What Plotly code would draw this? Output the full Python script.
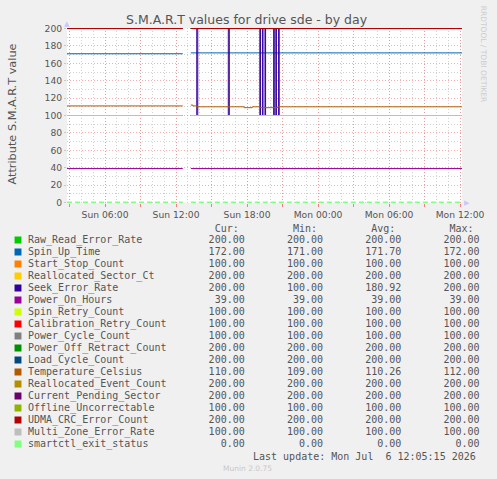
import plotly.graph_objects as go

# ---------------- data ----------------
T0 = "2026-07-05 02:47"
T1 = "2026-07-06 12:10"
GAP_S = "2026-07-05 12:34"
GAP_M = "2026-07-05 12:55"
GAP_E = "2026-07-05 13:15"

names = ["Raw_Read_Error_Rate", "Spin_Up_Time", "Start_Stop_Count", "Reallocated_Sector_Ct",
         "Seek_Error_Rate", "Power_On_Hours", "Spin_Retry_Count", "Calibration_Retry_Count",
         "Power_Cycle_Count", "Power_Off_Retract_Count", "Load_Cycle_Count", "Temperature_Celsius",
         "Reallocated_Event_Count", "Current_Pending_Sector", "Offline_Uncorrectable",
         "UDMA_CRC_Error_Count", "Multi_Zone_Error_Rate", "smartctl_exit_status"]
colors = ["#00cc00", "#0066b3", "#ff8000", "#ffcc00", "#330099", "#990099", "#ccff00", "#ff0000",
          "#808080", "#008f00", "#00487d", "#b35a00", "#b38f00", "#6b006b", "#8fb300", "#b30000",
          "#bebebe", "#80ff80"]
cur_vals = [200, 172, 100, 200, 200, 39, 100, 100, 100, 200, 200, 110, 200, 200, 100, 200, 100, 0]
min_vals = [200, 171, 100, 200, 100, 39, 100, 100, 100, 200, 200, 109, 200, 200, 100, 200, 100, 0]
avg_vals = [200, 171.70, 100, 200, 180.92, 39, 100, 100, 100, 200, 200, 110.26, 200, 200, 100, 200, 100, 0]
max_vals = [200, 172, 100, 200, 200, 39, 100, 100, 100, 200, 200, 112, 200, 200, 100, 200, 100, 0]

# level before / after the data gap for the flat series
pre_vals = [200, 171, 100, 200, 200, 39, 100, 100, 100, 200, 200, 111, 200, 200, 100, 200, 100, 0]
post_vals = [200, 172, 100, 200, 200, 39, 100, 100, 100, 200, 200, 110, 200, 200, 100, 200, 100, 0]

seek_times = ["2026-07-05 13:15", "2026-07-05 13:45", "2026-07-05 13:50", "2026-07-05 16:25",
              "2026-07-05 16:30", "2026-07-05 19:05", "2026-07-05 19:08", "2026-07-05 19:18",
              "2026-07-05 19:21", "2026-07-05 19:31", "2026-07-05 19:34",
              "2026-07-05 20:15", "2026-07-05 20:18", "2026-07-05 20:26",
              "2026-07-05 20:29", "2026-07-05 20:40", "2026-07-05 20:43", T1]
seek_vals = [200, 100, 200, 100, 200, 100, 200, 100, 200, 100, 200, 100, 200, 100, 200,
             100, 200, 200]

temp_times = ["2026-07-05 13:15", "2026-07-05 13:25", "2026-07-05 13:45", "2026-07-05 17:46",
              "2026-07-05 18:26", "2026-07-05 19:06", "2026-07-05 20:36", T1]
temp_vals = [112, 111, 110, 109, 110, 109, 110, 110]

tick_vals = ["2026-07-05 03:00", "2026-07-05 06:00", "2026-07-05 09:00", "2026-07-05 12:00",
             "2026-07-05 15:00", "2026-07-05 18:00", "2026-07-05 21:00", "2026-07-06 00:00",
             "2026-07-06 03:00", "2026-07-06 06:00", "2026-07-06 09:00", "2026-07-06 12:00"]
tick_text = ["", "Sun 06:00", "", "Sun 12:00", "", "Sun 18:00", "", "Mon 00:00",
             "", "Mon 06:00", "", "Mon 12:00"]

# ---------------- layout geometry ----------------
W, H = 497, 479
L, R, T, B = 67, 466, 28, 203


def px(x):
    return (x - L) / (R - L)


def py(y):
    return (B - y) / (B - T)


TXT = "#555555"
fig = go.Figure()

for i, n in enumerate(names):
    if n == "Seek_Error_Rate":
        xs = [T0, GAP_S, GAP_M] + seek_times
        ys = [pre_vals[i], pre_vals[i], None] + seek_vals
    elif n == "Temperature_Celsius":
        xs = [T0, GAP_S, GAP_M] + temp_times
        ys = [pre_vals[i], pre_vals[i], None] + temp_vals
    else:
        xs = [T0, GAP_S, GAP_M, GAP_E, T1]
        ys = [pre_vals[i], pre_vals[i], None, post_vals[i], post_vals[i]]
    dash = "solid"
    width = 1.0
    if n == "smartctl_exit_status":
        dash = "5px,3px"
        width = 2
    fig.add_trace(go.Scatter(x=xs, y=ys, mode="lines", name=n, showlegend=False,
                             line=dict(color=colors[i], width=width, shape="hv", dash=dash),
                             connectgaps=False, hoverinfo="skip"))

annotations = []
shapes = []
mono = "DejaVu Sans Mono"
NB = "\u00a0"


def fmt(v):
    return f"{v:.2f}"


header = " " * 31 + "Cur:" + " " * 9 + "Min:" + " " * 9 + "Avg:" + " " * 9 + "Max:"
annotations.append(dict(x=px(26), y=py(228), xref="paper", yref="paper", xanchor="left",
                        yanchor="middle", showarrow=False, text=header.replace(" ", NB),
                        font=dict(family=mono, size=10, color=TXT)))
for i, n in enumerate(names):
    yc = 240 + 12 * i
    row = f"{n:<30}{fmt(cur_vals[i]):>6}{fmt(min_vals[i]):>13}{fmt(avg_vals[i]):>13}{fmt(max_vals[i]):>13}"
    annotations.append(dict(x=px(26), y=py(yc), xref="paper", yref="paper", xanchor="left",
                            yanchor="middle", showarrow=False, text=row.replace(" ", NB),
                            font=dict(family=mono, size=10, color=TXT)))
    shapes.append(dict(type="rect", xref="paper", yref="paper", x0=px(14), x1=px(21),
                       y0=py(yc + 3.5), y1=py(yc - 3.5), fillcolor=colors[i], line=dict(width=0)))

annotations.append(dict(x=px(482), y=py(456), xref="paper", yref="paper", xanchor="right",
                        yanchor="middle", showarrow=False,
                        text="Last update: Mon Jul  6 12:05:15 2026".replace(" ", NB),
                        font=dict(family=mono, size=10, color=TXT)))
annotations.append(dict(x=px(249), y=py(468), xref="paper", yref="paper", xanchor="center",
                        yanchor="middle", showarrow=False, text="Munin 2.0.75",
                        font=dict(family="DejaVu Sans", size=7.5, color="#c8c8c8")))
annotations.append(dict(x=px(248.5), y=py(19), xref="paper", yref="paper", xanchor="center",
                        yanchor="middle", showarrow=False,
                        text="S.M.A.R.T values for drive sde - by day",
                        font=dict(family="DejaVu Sans", size=12.5, color=TXT)))
annotations.append(dict(x=px(11), y=py(114), xref="paper", yref="paper", xanchor="center",
                        yanchor="middle", showarrow=False, textangle=-90,
                        text="Attribute S.M.A.R.T value",
                        font=dict(family="DejaVu Sans", size=11.3, color=TXT)))
annotations.append(dict(x=px(488.5), y=py(54), xref="paper", yref="paper", xanchor="center",
                        yanchor="middle", showarrow=False, textangle=90,
                        text="RRDTOOL / TOBI OETIKER",
                        font=dict(family="DejaVu Sans", size=7.5, color="#cccccc")))
annotations.append(dict(x=px(66.8), y=py(24), xref="paper", yref="paper", xanchor="center",
                        yanchor="middle", showarrow=False, text="\u25B2",
                        font=dict(family="DejaVu Sans", size=7, color="#c8c8ff")))
annotations.append(dict(x=px(471), y=py(203), xref="paper", yref="paper", xanchor="center",
                        yanchor="middle", showarrow=False, text="\u25B6",
                        font=dict(family="DejaVu Sans", size=7, color="#c8c8ff")))

fig.update_layout(
    width=W, height=H,
    margin=dict(l=L, r=W - R, t=T, b=H - B, pad=0),
    paper_bgcolor="#f0f0f0", plot_bgcolor="#ffffff",
    annotations=annotations, shapes=shapes,
    xaxis=dict(type="date", range=[T0, T1], tickvals=tick_vals, ticktext=tick_text,
               showgrid=True, gridcolor="rgba(240,120,120,0.6)", griddash="1px,2px", gridwidth=1,
               ticks="outside", ticklen=3, tickcolor="rgba(240,100,100,0.8)",
               tickfont=dict(family="DejaVu Sans", size=9.2, color=TXT),
               zeroline=False, showline=False, fixedrange=True,
               minor=dict(dtick=3600000, tick0="2026-07-05 00:00", showgrid=True,
                          gridcolor="rgba(190,190,190,0.7)", griddash="1px,2px", gridwidth=1)),
    yaxis=dict(range=[-0.6, 200.6], tickmode="linear", tick0=0, dtick=20,
               showgrid=True, gridcolor="rgba(240,120,120,0.6)", griddash="1px,2px", gridwidth=1,
               ticks="outside", ticklen=2, tickcolor="rgba(190,190,190,0.8)",
               tickfont=dict(family="DejaVu Sans", size=9.2, color=TXT),
               zeroline=False, showline=False, fixedrange=True,
               minor=dict(dtick=10, showgrid=True, gridcolor="rgba(190,190,190,0.7)",
                          griddash="1px,2px", gridwidth=1)),
)

fig.write_html("out.html")
